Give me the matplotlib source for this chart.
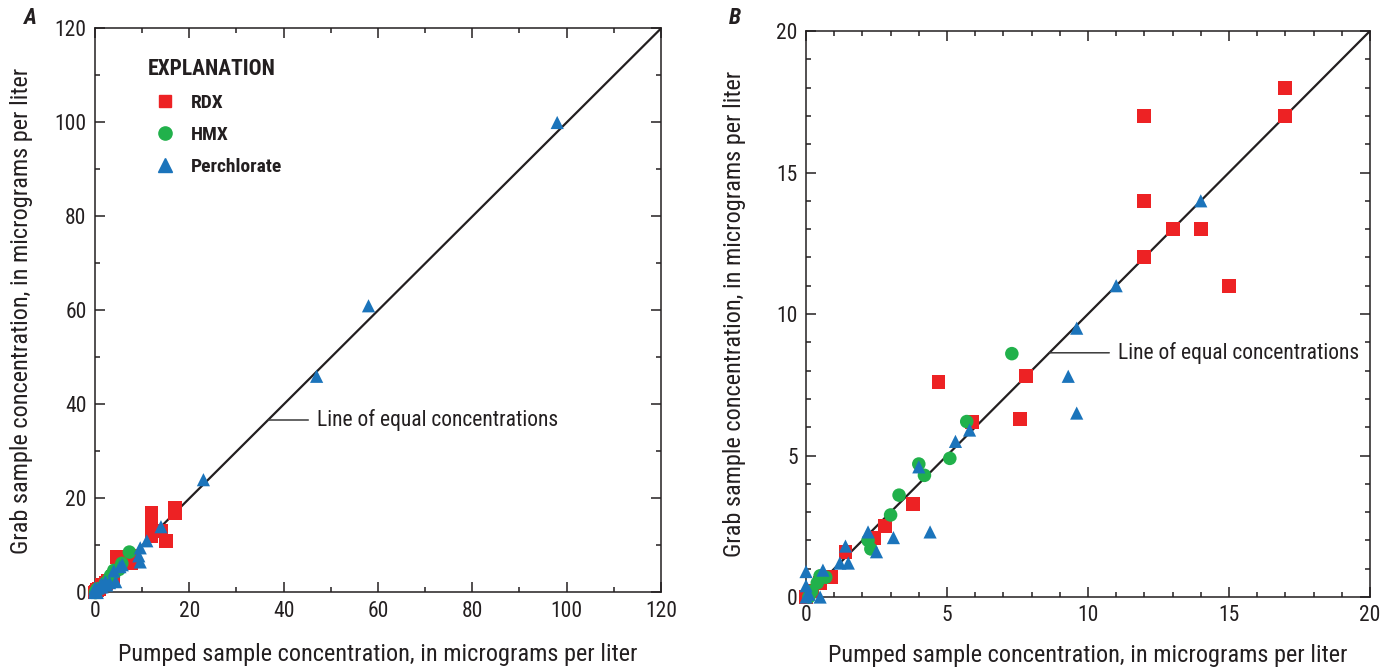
import numpy as np
import matplotlib
matplotlib.use("Agg")
import matplotlib.pyplot as plt
from matplotlib.lines import Line2D
from matplotlib.ticker import MultipleLocator

plt.rcParams['font.family'] = ['Roboto Condensed', 'Fira Sans Condensed',
                               'Liberation Sans', 'DejaVu Sans']

# pumped vs grab concentrations (micrograms per liter)
rdx_pumped = [17, 17, 12, 12, 13, 14, 12, 15, 7.8, 4.7, 7.6, 5.9, 3.8, 2.8, 2.4, 1.4, 0.9, 0.5, 0.2, 0.0]
rdx_grab = [18, 17, 17, 14, 13, 13, 12, 11, 7.8, 7.6, 6.3, 6.2, 3.3, 2.5, 2.1, 1.6, 0.7, 0.5, 0.2, 0.0]

hmx_pumped = [7.3, 5.7, 5.1, 4.0, 4.2, 3.3, 3.0, 2.2, 2.3, 0.7, 0.5, 0.4, 0.2, 0.1]
hmx_grab = [8.6, 6.2, 4.9, 4.7, 4.3, 3.6, 2.9, 2.0, 1.7, 0.7, 0.75, 0.5, 0.2, 0.0]

perc_pumped = [98, 58, 47, 23, 14, 11, 9.6, 9.3, 9.6, 5.8, 5.3, 4.0, 4.4, 2.2, 3.1, 2.5,
               1.4, 1.2, 1.5, 0.6, 0.0, 0.0, 0.0, 0.5, 0.1]
perc_grab = [100, 61, 46, 24, 14, 11, 9.5, 7.8, 6.5, 5.9, 5.5, 4.6, 2.3, 2.3, 2.1, 1.6,
             1.8, 1.2, 1.2, 0.95, 0.9, 0.4, 0.0, 0.0, 0.1]

RED = '#ED2224'
GREEN = '#21B14B'
BLUE = '#1B74BB'
INK = '#231F20'

series = [
    ('RDX', rdx_pumped, rdx_grab, 's', RED, 100),
    ('HMX', hmx_pumped, hmx_grab, 'o', GREEN, 95),
    ('Perchlorate', perc_pumped, perc_grab, '^', BLUE, 90),
]

fig = plt.figure(figsize=(13.88, 6.67), dpi=100)
axA = fig.add_axes([0.0684, 0.1117, 0.4078, 0.8456])
axB = fig.add_axes([0.5807, 0.1049, 0.4063, 0.8486])


def style_axis(ax, vmax, major, minor, xpad, ylab_x):
    ax.set_xlim(0, vmax)
    ax.set_ylim(0, vmax)
    ax.xaxis.set_major_locator(MultipleLocator(major))
    ax.yaxis.set_major_locator(MultipleLocator(major))
    ax.xaxis.set_minor_locator(MultipleLocator(minor))
    ax.yaxis.set_minor_locator(MultipleLocator(minor))
    ax.tick_params(which='both', direction='in', top=True, right=True,
                   color=INK, width=1.1)
    ax.tick_params(which='major', length=7.5, labelsize=15.5, pad=6,
                   labelcolor=INK)
    ax.tick_params(which='minor', length=3.5)
    for sp in ax.spines.values():
        sp.set_color(INK)
        sp.set_linewidth(1.1)
    ax.set_xlabel('Pumped sample concentration, in micrograms per liter',
                  fontsize=17.5, color=INK, labelpad=xpad)
    ax.set_ylabel('Grab sample concentration, in micrograms per liter',
                  fontsize=17.5, color=INK)
    ax.yaxis.set_label_coords(ylab_x, 0.5)


for ax, vmax, major, minor, lead, xpad, ylab_x in [
    (axA, 120, 20, 10, (36.7, 47.0), 15.5, -0.1095),
    (axB, 20, 5, 1, (8.63, 11.05), 12.5, -0.1064),
]:
    style_axis(ax, vmax, major, minor, xpad, ylab_x)
    ax.plot([0, vmax], [0, vmax], color=INK, lw=1.6, zorder=2)
    for name, px, gy, mk, col, size in series:
        px = np.asarray(px, dtype=float)
        gy = np.asarray(gy, dtype=float)
        keep = (px <= vmax) & (gy <= vmax)
        ax.scatter(px[keep], gy[keep], marker=mk, s=size, c=col,
                   edgecolors='none', zorder=3, clip_on=False)
    ax.annotate('Line of equal concentrations', xy=(lead[0], lead[0]),
                xytext=(lead[1], lead[0]), fontsize=15.5, color=INK,
                va='center', ha='left',
                arrowprops=dict(arrowstyle='-', color='#3a3a3a', lw=1.1,
                                shrinkA=4, shrinkB=0))

handles = [Line2D([], [], marker=mk, color=col, linestyle='none',
                  markersize=9 if mk == 's' else 9.5, label=name)
           for name, _, _, mk, col, _ in series]
leg = axA.legend(handles=handles, loc='upper left', bbox_to_anchor=(0.093, 0.948),
                 frameon=False, title='EXPLANATION', alignment='left',
                 prop={'weight': 'bold', 'size': 14},
                 title_fontproperties={'weight': 'bold', 'size': 15.5},
                 handlelength=1.8, handletextpad=0.45, labelspacing=0.72,
                 borderpad=0, borderaxespad=0)
leg._legend_box.sep = 10
for t in leg.get_texts():
    t.set_color(INK)
leg.get_title().set_color(INK)

fig.text(30 / 1388, 1 - 18 / 667, 'A', fontsize=16, fontweight='bold',
         fontstyle='italic', ha='center', va='center', color=INK)
fig.text(735 / 1388, 1 - 18 / 667, 'B', fontsize=16, fontweight='bold',
         fontstyle='italic', ha='center', va='center', color=INK)

fig.savefig('out.png', dpi=100)
